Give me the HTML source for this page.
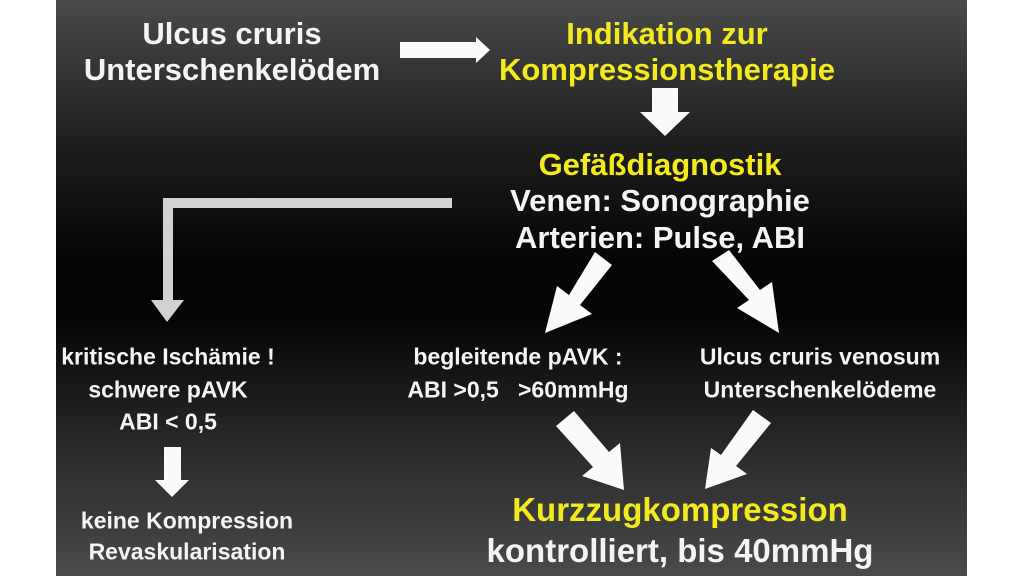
<!DOCTYPE html>
<html><head><meta charset="utf-8"><style>
html,body{margin:0;padding:0;background:#fff;}
#p{position:absolute;left:56px;top:0;width:911px;height:576px;
background:linear-gradient(to bottom,#4a4a4a 0%,#1e1e1e 25%,#050505 45%,#050505 55%,#2a2a2a 78%,#4a4a4a 100%);}
.t{position:absolute;font-family:"Liberation Sans",sans-serif;font-weight:bold;color:#f4f4f4;text-align:center;white-space:pre;transform:translate(-50%,-50%);}
.y{color:#f2ea1c;}
</style></head><body>
<div id="p"></div>
<svg width="1024" height="576" style="position:absolute;left:0;top:0">
<g fill="#fafafa">
<polygon points="400,42 476,42 476,37 490,50 476,63 476,58 400,58"/>
<polygon points="652,88 678,88 678,112 690,112 665,136 640,112 652,112"/>
<polygon points="595,252 612,265 580,305 592,314 545,333 557,286 569,295"/>
<polygon points="712,261 729,250 760,290 772,282 779,333 737,308 749,300"/>
<polygon points="556,426 574,411 609,452 620,443 624,490 582,476 593,467"/>
<polygon points="753,410 771,423 736,466 747,474 705,489 711,448 721,455"/>
<polygon points="164,447 181,447 181,480 189,480 172,497 155,480 164,480"/>
</g>
<polygon fill="#d2d2d2" points="452,198 452,208 173,208 173,300 184,300 167,322 151,300 163,300 163,198"/>
</svg>
<div class="t" style="left:232px;top:34px;font-size:31px">Ulcus cruris</div>
<div class="t" style="left:232px;top:70px;font-size:31px">Unterschenkelödem</div>
<div class="t y" style="left:667px;top:34px;font-size:31px">Indikation zur</div>
<div class="t y" style="left:667px;top:70px;font-size:31px">Kompressionstherapie</div>
<div class="t y" style="left:660px;top:165px;font-size:31px">Gefäßdiagnostik</div>
<div class="t" style="left:660px;top:201px;font-size:31px">Venen: Sonographie</div>
<div class="t" style="left:660px;top:238px;font-size:31px">Arterien: Pulse, ABI</div>
<div class="t" style="left:168px;top:357px;font-size:23px">kritische Ischämie !</div>
<div class="t" style="left:168px;top:390px;font-size:23px">schwere pAVK</div>
<div class="t" style="left:168px;top:422px;font-size:23px">ABI &lt; 0,5</div>
<div class="t" style="left:187px;top:521px;font-size:23px">keine Kompression</div>
<div class="t" style="left:187px;top:552px;font-size:23px">Revaskularisation</div>
<div class="t" style="left:518px;top:357px;font-size:23px">begleitende pAVK :</div>
<div class="t" style="left:518px;top:390px;font-size:23px">ABI &gt;0,5   &gt;60mmHg</div>
<div class="t" style="left:820px;top:357px;font-size:23px">Ulcus cruris venosum</div>
<div class="t" style="left:820px;top:390px;font-size:23px">Unterschenkelödeme</div>
<div class="t y" style="left:680px;top:510px;font-size:33px">Kurzzugkompression</div>
<div class="t" style="left:680px;top:551px;font-size:33px">kontrolliert, bis 40mmHg</div>
</body></html>
